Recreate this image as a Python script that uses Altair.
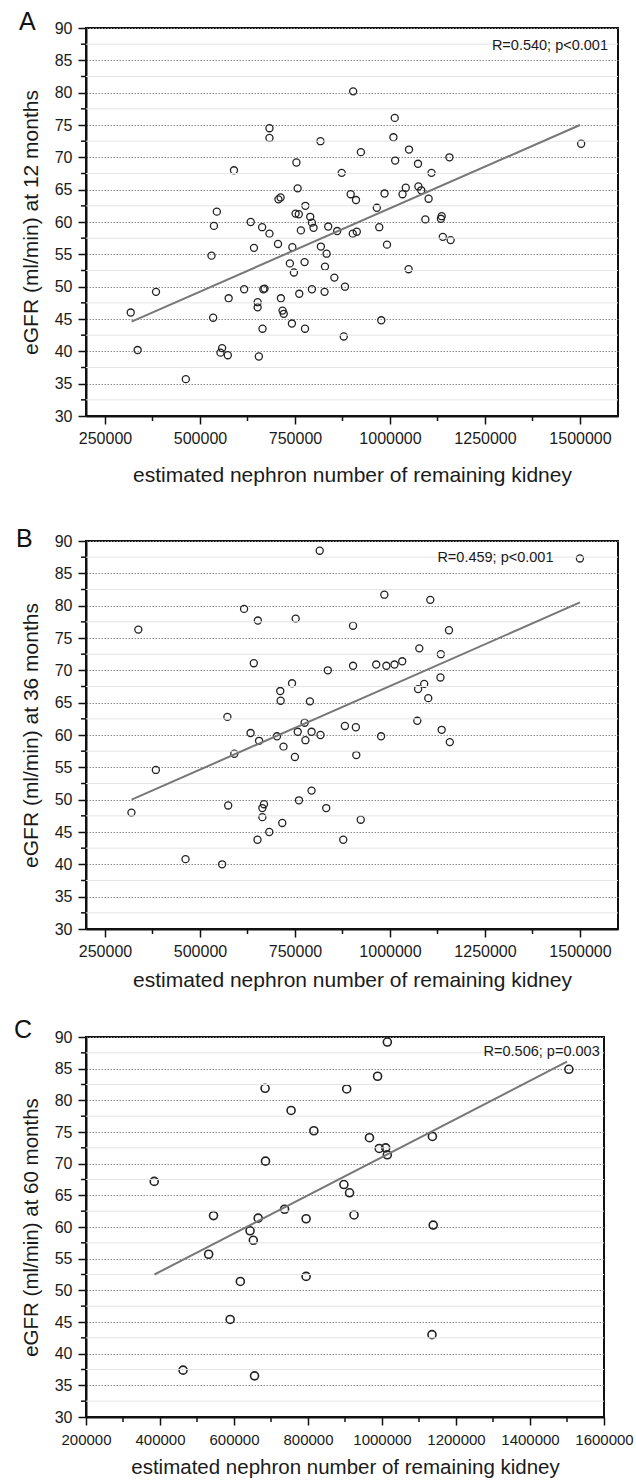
import altair as alt
import pandas as pd

FONT = "Liberation Sans"

# ---------------- Panel A (12 months) ----------------
A_x = [903000, 1012500, 682800, 682800, 1009000, 817000, 1503000, 923400, 1050000, 1156400,
       1013600, 753700, 1073700, 589400, 872900, 1109200, 757000, 1041500, 1074800, 896500,
       985700, 1033000, 1082300, 706400, 712000, 910500, 1101600,
       965300, 777300, 751500, 760000, 544300, 790000, 1136000, 1134000, 1093000, 633400,
       536700, 663500, 794500, 798800, 971700, 837400, 765500, 682800, 861000, 902000,
       912600, 1139000, 1159600, 705300, 992100, 743000, 818100, 642000, 530300, 833200,
       736500, 775200, 747200, 828900, 1049000, 853600, 384200, 616200, 666700, 670000,
       794500, 881500, 827800, 761200, 575400, 712900, 651700, 651700, 717200, 720400,
       317700, 534600, 977000, 741900, 664500, 776300, 878300, 335900, 558200, 553900,
       573200, 654900, 462700]
A_y = [80.2, 76.1, 74.5, 73.0, 73.1, 72.5, 72.1, 70.8, 71.2, 70.0,
       69.5, 69.2, 69.0, 68.0, 67.6, 67.6, 65.2, 65.3, 65.5, 64.3,
       64.4, 64.3, 64.9, 63.5, 63.8, 63.4, 63.6,
       62.2, 62.5, 61.3, 61.2, 61.6, 60.8, 60.9, 60.5, 60.4, 60.0,
       59.4, 59.2, 59.9, 59.1, 59.2, 59.3, 58.7, 58.2, 58.6, 58.2,
       58.5, 57.7, 57.2, 56.6, 56.5, 56.1, 56.2, 56.0, 54.8, 55.1,
       53.6, 53.8, 52.2, 53.1, 52.7, 51.4, 49.2, 49.6, 49.6, 49.7,
       49.6, 50.0, 49.2, 48.9, 48.2, 48.2, 47.6, 46.8, 46.3, 45.8,
       46.0, 45.2, 44.8, 44.3, 43.5, 43.5, 42.3, 40.2, 40.5, 39.8,
       39.4, 39.2, 35.7]
A_fit_x = [320000, 1500000]
A_fit_y = [44.6, 75.0]
A_stat = "R=0.540; p<0.001"
A_ytitle = "eGFR (ml/min) at 12 months"

# ---------------- Panel B (36 months) ----------------
B_x = [815000, 1499800, 985100, 1106000, 616000, 652300, 751800, 902700, 337700, 1155200,
       1077100, 1133800, 641600, 963700, 902700, 990400, 1011800, 1032200, 836400, 1132800,
       742200, 1090000, 1073900, 711200, 712200, 789300, 1100700, 572100, 1071800, 775400,
       881300, 910200, 1136000, 633100, 655500, 702600, 757200, 793600, 817100, 719700,
       777500, 976500, 1157400, 590300, 749700, 911300, 383800, 793600, 574200, 668400,
       664100, 760400, 832100, 664100, 319600, 716500, 923000, 682300, 651300, 877000,
       461900, 558200]
B_y = [88.5, 87.3, 81.7, 80.9, 79.5, 77.7, 78.0, 76.9, 76.3, 76.2,
       73.4, 72.5, 71.1, 70.9, 70.7, 70.7, 70.9, 71.4, 70.0, 68.9,
       68.0, 67.9, 67.1, 66.8, 65.3, 65.2, 65.7, 62.8, 62.2, 61.9,
       61.4, 61.2, 60.8, 60.3, 59.1, 59.8, 60.5, 60.5, 60.0, 58.2,
       59.2, 59.8, 58.9, 57.1, 56.6, 56.9, 54.6, 51.4, 49.1, 49.3,
       48.7, 49.9, 48.7, 47.3, 48.0, 46.4, 46.9, 45.0, 43.8, 43.8,
       40.8, 40.0]
B_fit_x = [320000, 1500000]
B_fit_y = [50.0, 80.5]
B_stat = "R=0.459; p<0.001"
B_ytitle = "eGFR (ml/min) at 36 months"

# ---------------- Panel C (60 months) ----------------
C_x = [1014400, 1505000, 988100, 684000, 904600, 754300, 815800, 966100, 1136200, 992500,
       1010000, 1014400, 685100, 384400, 897000, 912300, 736700, 544600, 665400, 794900,
       924400, 1138400, 643400, 652200, 531500, 794900, 617100, 589600, 1135100, 462300,
       655500]
C_y = [89.2, 84.9, 83.8, 81.9, 81.8, 78.4, 75.2, 74.1, 74.3, 72.4,
       72.5, 71.4, 70.4, 67.2, 66.7, 65.4, 62.8, 61.8, 61.4, 61.3,
       61.9, 60.3, 59.4, 57.9, 55.7, 52.2, 51.4, 45.4, 43.0, 37.4,
       36.5]
C_fit_x = [385000, 1500000]
C_fit_y = [52.5, 86.1]
C_stat = "R=0.506; p=0.003"
C_ytitle = "eGFR (ml/min) at 60 months"

X_TITLE = "estimated nephron number of remaining kidney"

AB_x_major = [250000, 500000, 750000, 1000000, 1250000, 1500000]
AB_x_minor = [375000, 625000, 875000, 1125000, 1375000]
C_x_major = [200000, 400000, 600000, 800000, 1000000, 1200000, 1400000, 1600000]
C_x_minor = [300000, 500000, 700000, 900000, 1100000, 1300000, 1500000]
Y_major = [30, 35, 40, 45, 50, 55, 60, 65, 70, 75, 80, 85, 90]
Y_minor = [32.5, 37.5, 42.5, 47.5, 52.5, 57.5, 62.5, 67.5, 72.5, 77.5, 82.5, 87.5]


def panel(xs, ys, fx, fy, stat, letter, ytitle, x_major, x_minor, w, h,
          xtitle_y, xlab_fs, xlab_pad, title_fs, stat_dx, stat_y, let_x, let_y,
          pt_size, pt_stroke):
    xscale = alt.Scale(domain=[200000, 1600000], nice=False, zero=False)
    yscale = alt.Scale(domain=[30, 90], nice=False, zero=False)
    xaxis = alt.Axis(values=x_major, format="d", title=X_TITLE, grid=False,
                     labelFont=FONT, labelFontSize=xlab_fs, labelColor="#1a1a1a",
                     labelPadding=xlab_pad, labelFlush=False, labelOverlap=False,
                     titleFont=FONT, titleFontSize=title_fs, titleFontWeight="normal",
                     titleColor="#1a1a1a", titleY=xtitle_y, titleBaseline="alphabetic",
                     tickSize=8, tickWidth=1.5, tickColor="#111",
                     domainColor="#111", domainWidth=2)
    yaxis = alt.Axis(values=Y_major, format="d", title=ytitle, grid=True,
                     gridDash=[1.5, 1.5], gridColor="#8c8c8c", gridWidth=1,
                     labelFont=FONT, labelFontSize=16, labelColor="#1a1a1a",
                     labelPadding=6, labelOverlap=False,
                     titleFont=FONT, titleFontSize=title_fs, titleFontWeight="normal",
                     titleColor="#1a1a1a", titleX=-49, titleBaseline="alphabetic",
                     tickSize=8, tickWidth=1.5, tickColor="#111",
                     domainColor="#111", domainWidth=2)

    X = lambda: alt.X("x:Q", scale=xscale, axis=xaxis)
    Y = lambda: alt.Y("y:Q", scale=yscale, axis=yaxis)

    minor_y = pd.DataFrame({"y": Y_minor})
    minor_x = pd.DataFrame({"x": x_minor})
    pts = pd.DataFrame({"x": xs, "y": ys})
    fit = pd.DataFrame({"x": fx, "y": fy})

    points = alt.Chart(pts).mark_point(shape="circle", filled=False, size=pt_size,
                                       strokeWidth=pt_stroke, color="#222222", opacity=1).encode(
        x=X(), y=Y())
    grid_minor = alt.Chart(minor_y).mark_rule(color="#e4e4e4", strokeWidth=1).encode(
        y=Y(), x=alt.value(0), x2=alt.value(w))
    ytick_minor = alt.Chart(minor_y).mark_rule(color="#111", strokeWidth=1.5).encode(
        y=Y(), x=alt.value(-5), x2=alt.value(0))
    xtick_minor = alt.Chart(minor_x).mark_rule(color="#111", strokeWidth=1.5).encode(
        x=X(), y=alt.value(h), y2=alt.value(h + 5))
    line = alt.Chart(fit).mark_line(color="#777777", strokeWidth=2).encode(x=X(), y=Y())

    stat_txt = alt.Chart(pd.DataFrame({"t": [stat]})).mark_text(
        font=FONT, fontSize=14.5, color="#1a1a1a", align="right", baseline="alphabetic").encode(
        x=alt.value(w + stat_dx), y=alt.value(stat_y), text="t:N")
    let_txt = alt.Chart(pd.DataFrame({"t": [letter]})).mark_text(
        font=FONT, fontSize=25, color="#111", align="left", baseline="alphabetic").encode(
        x=alt.value(let_x), y=alt.value(let_y), text="t:N")

    return alt.layer(points, grid_minor, ytick_minor, xtick_minor, line, stat_txt, let_txt).properties(
        width=w, height=h)


pA = panel(A_x, A_y, A_fit_x, A_fit_y, A_stat, "A", A_ytitle, AB_x_major, AB_x_minor,
           532, 388, 65, 16, 6, 21, -10, 21.8, -67, 1.6, 50, 1.3)
pB = panel(B_x, B_y, B_fit_x, B_fit_y, B_stat, "B", B_ytitle, AB_x_major, AB_x_minor,
           532, 388, 57.7, 16, 6, 21, -64.5, 21.4, -70, 5.7, 50, 1.3)
pC = panel(C_x, C_y, C_fit_x, C_fit_y, C_stat, "C", C_ytitle, C_x_major, C_x_minor,
           518, 380, 56.4, 15, 7, 20.5, -4.3, 19.4, -72, 1.1, 64, 1.6)

inner = alt.vconcat(pB, pC, spacing=108, bounds="flush")
chart = alt.vconcat(pA, inner, spacing=39).properties(
    padding={"left": 13, "top": 8, "right": 0, "bottom": 0}
).configure_view(stroke="#111", strokeWidth=2)

chart.save("out.html", embed_options={"renderer": "svg", "actions": False})
